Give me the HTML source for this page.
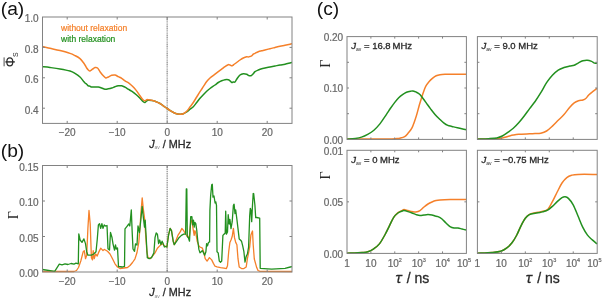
<!DOCTYPE html>
<html><head><meta charset="utf-8"><style>
html,body{margin:0;padding:0;background:#fff;}
svg{display:block;font-family:"Liberation Sans", sans-serif;}
</style></head><body>
<div style="will-change:transform;width:602px;height:300px;overflow:hidden;filter:blur(0.3px)">
<svg width="602" height="300" viewBox="0 0 602 300">
<rect width="602" height="300" fill="#fff"/>
<line x1="167.2" y1="17.0" x2="167.2" y2="123.4" stroke="#a2a2a2" stroke-width="1.5" stroke-dasharray="1.2,0.6"/>
<path d="M42.40,66.70 C43.67,66.83 47.07,67.13 50.00,67.50 C52.93,67.87 56.67,68.32 60.00,68.90 C63.33,69.48 67.50,70.27 70.00,71.00 C72.50,71.73 73.33,72.30 75.00,73.30 C76.67,74.30 78.62,75.72 80.00,77.00 C81.38,78.28 82.47,80.00 83.30,81.00 C84.13,82.00 84.43,82.47 85.00,83.00 C85.57,83.53 86.15,83.73 86.70,84.20 C87.25,84.67 87.75,85.47 88.30,85.80 C88.85,86.13 89.43,86.00 90.00,86.20 C90.57,86.40 90.87,86.87 91.70,87.00 C92.53,87.13 93.90,87.00 95.00,87.00 C96.10,87.00 97.18,86.83 98.30,87.00 C99.42,87.17 100.58,87.63 101.70,88.00 C102.82,88.37 103.90,89.07 105.00,89.20 C106.10,89.33 107.18,89.00 108.30,88.80 C109.42,88.60 110.58,88.35 111.70,88.00 C112.82,87.65 113.90,87.07 115.00,86.70 C116.10,86.33 117.18,85.95 118.30,85.80 C119.42,85.65 120.58,85.57 121.70,85.80 C122.82,86.03 123.90,86.63 125.00,87.20 C126.10,87.77 127.38,88.65 128.30,89.20 C129.22,89.75 129.67,89.98 130.50,90.50 C131.33,91.02 132.38,91.63 133.30,92.30 C134.22,92.97 134.88,93.50 136.00,94.50 C137.12,95.50 138.78,97.10 140.00,98.30 C141.22,99.50 142.47,101.00 143.30,101.70 C144.13,102.40 144.43,102.65 145.00,102.50 C145.57,102.35 146.15,101.17 146.70,100.80 C147.25,100.43 147.47,100.35 148.30,100.30 C149.13,100.25 150.58,100.33 151.70,100.50 C152.82,100.67 153.62,100.80 155.00,101.30 C156.38,101.80 158.33,102.55 160.00,103.50 C161.67,104.45 163.33,105.83 165.00,107.00 C166.67,108.17 168.33,109.47 170.00,110.50 C171.67,111.53 173.33,112.58 175.00,113.20 C176.67,113.82 178.62,114.12 180.00,114.20 C181.38,114.28 182.18,114.07 183.30,113.70 C184.42,113.33 185.58,112.75 186.70,112.00 C187.82,111.25 188.90,110.08 190.00,109.20 C191.10,108.32 192.18,107.82 193.30,106.70 C194.42,105.58 195.58,103.90 196.70,102.50 C197.82,101.10 198.90,99.60 200.00,98.30 C201.10,97.00 202.18,95.87 203.30,94.70 C204.42,93.53 205.58,92.33 206.70,91.30 C207.82,90.27 208.62,89.55 210.00,88.50 C211.38,87.45 213.62,86.00 215.00,85.00 C216.38,84.00 217.18,83.20 218.30,82.50 C219.42,81.80 220.58,81.27 221.70,80.80 C222.82,80.33 223.90,79.88 225.00,79.70 C226.10,79.52 227.47,79.52 228.30,79.70 C229.13,79.88 229.43,80.33 230.00,80.80 C230.57,81.27 231.15,82.30 231.70,82.50 C232.25,82.70 232.75,82.08 233.30,82.00 C233.85,81.92 234.43,82.47 235.00,82.00 C235.57,81.53 235.87,80.37 236.70,79.20 C237.53,78.03 238.90,75.92 240.00,75.00 C241.10,74.08 242.18,73.83 243.30,73.70 C244.42,73.57 245.87,73.93 246.70,74.20 C247.53,74.47 247.75,75.03 248.30,75.30 C248.85,75.57 249.43,75.80 250.00,75.80 C250.57,75.80 251.15,75.65 251.70,75.30 C252.25,74.95 252.75,74.30 253.30,73.70 C253.85,73.10 254.17,72.32 255.00,71.70 C255.83,71.08 257.18,70.50 258.30,70.00 C259.42,69.50 260.58,69.03 261.70,68.70 C262.82,68.37 263.62,68.28 265.00,68.00 C266.38,67.72 268.33,67.33 270.00,67.00 C271.67,66.67 273.33,66.33 275.00,66.00 C276.67,65.67 278.33,65.30 280.00,65.00 C281.67,64.70 283.33,64.53 285.00,64.20 C286.67,63.87 288.83,63.28 290.00,63.00 C291.17,62.72 291.67,62.58 292.00,62.50" fill="none" stroke="#22901f" stroke-width="1.5"/>
<path d="M42.40,46.60 C43.67,46.88 47.07,47.63 50.00,48.30 C52.93,48.97 56.67,49.75 60.00,50.60 C63.33,51.45 67.50,52.57 70.00,53.40 C72.50,54.23 73.33,54.73 75.00,55.60 C76.67,56.47 78.62,57.45 80.00,58.60 C81.38,59.75 82.47,61.43 83.30,62.50 C84.13,63.57 84.43,64.08 85.00,65.00 C85.57,65.92 86.15,67.17 86.70,68.00 C87.25,68.83 87.75,69.50 88.30,70.00 C88.85,70.50 89.30,71.13 90.00,71.00 C90.70,70.87 91.67,69.78 92.50,69.20 C93.33,68.62 94.17,67.70 95.00,67.50 C95.83,67.30 96.67,67.30 97.50,68.00 C98.33,68.70 99.03,70.40 100.00,71.70 C100.97,73.00 102.33,74.75 103.30,75.80 C104.27,76.85 104.97,77.80 105.80,78.00 C106.63,78.20 107.32,77.45 108.30,77.00 C109.28,76.55 110.58,75.63 111.70,75.30 C112.82,74.97 113.90,74.77 115.00,75.00 C116.10,75.23 117.18,76.15 118.30,76.70 C119.42,77.25 120.58,77.62 121.70,78.30 C122.82,78.98 123.75,79.97 125.00,80.80 C126.25,81.63 127.95,82.38 129.20,83.30 C130.45,84.22 131.40,85.20 132.50,86.30 C133.60,87.40 134.55,88.32 135.80,89.90 C137.05,91.48 139.02,94.40 140.00,95.80 C140.98,97.20 141.15,97.60 141.70,98.30 C142.25,99.00 142.75,99.58 143.30,100.00 C143.85,100.42 144.43,100.85 145.00,100.80 C145.57,100.75 146.15,99.88 146.70,99.70 C147.25,99.52 147.47,99.60 148.30,99.70 C149.13,99.80 150.58,100.03 151.70,100.30 C152.82,100.57 153.62,100.77 155.00,101.30 C156.38,101.83 158.33,102.55 160.00,103.50 C161.67,104.45 163.33,105.83 165.00,107.00 C166.67,108.17 168.33,109.47 170.00,110.50 C171.67,111.53 173.33,112.58 175.00,113.20 C176.67,113.82 178.62,114.12 180.00,114.20 C181.38,114.28 182.18,114.18 183.30,113.70 C184.42,113.22 185.58,112.42 186.70,111.30 C187.82,110.18 188.90,108.47 190.00,107.00 C191.10,105.53 192.18,104.17 193.30,102.50 C194.42,100.83 195.58,98.80 196.70,97.00 C197.82,95.20 198.90,93.42 200.00,91.70 C201.10,89.98 202.18,88.40 203.30,86.70 C204.42,85.00 205.58,82.95 206.70,81.50 C207.82,80.05 208.62,79.22 210.00,78.00 C211.38,76.78 213.62,75.25 215.00,74.20 C216.38,73.15 217.18,72.53 218.30,71.70 C219.42,70.87 220.58,70.03 221.70,69.20 C222.82,68.37 223.90,67.45 225.00,66.70 C226.10,65.95 227.47,64.98 228.30,64.70 C229.13,64.42 229.43,64.82 230.00,65.00 C230.57,65.18 231.15,65.80 231.70,65.80 C232.25,65.80 232.47,65.55 233.30,65.00 C234.13,64.45 235.58,63.33 236.70,62.50 C237.82,61.67 238.90,60.75 240.00,60.00 C241.10,59.25 242.18,58.53 243.30,58.00 C244.42,57.47 245.87,56.97 246.70,56.80 C247.53,56.63 247.75,57.05 248.30,57.00 C248.85,56.95 249.43,56.70 250.00,56.50 C250.57,56.30 251.15,56.18 251.70,55.80 C252.25,55.42 252.75,54.62 253.30,54.20 C253.85,53.78 254.17,53.72 255.00,53.30 C255.83,52.88 257.18,52.12 258.30,51.70 C259.42,51.28 260.58,51.08 261.70,50.80 C262.82,50.52 263.62,50.35 265.00,50.00 C266.38,49.65 268.33,49.12 270.00,48.70 C271.67,48.28 273.33,47.90 275.00,47.50 C276.67,47.10 278.33,46.67 280.00,46.30 C281.67,45.93 283.33,45.65 285.00,45.30 C286.67,44.95 288.83,44.47 290.00,44.20 C291.17,43.93 291.67,43.78 292.00,43.70" fill="none" stroke="#f5802a" stroke-width="1.5"/>
<rect x="42.5" y="17.0" width="249.5" height="106.4" fill="none" stroke="#828282" stroke-width="1"/>
<line x1="67.2" y1="123.4" x2="67.2" y2="120.9" stroke="#828282" stroke-width="1"/>
<line x1="67.2" y1="17.0" x2="67.2" y2="19.5" stroke="#828282" stroke-width="1"/>
<line x1="117.2" y1="123.4" x2="117.2" y2="120.9" stroke="#828282" stroke-width="1"/>
<line x1="117.2" y1="17.0" x2="117.2" y2="19.5" stroke="#828282" stroke-width="1"/>
<line x1="167.2" y1="123.4" x2="167.2" y2="120.9" stroke="#828282" stroke-width="1"/>
<line x1="167.2" y1="17.0" x2="167.2" y2="19.5" stroke="#828282" stroke-width="1"/>
<line x1="217.2" y1="123.4" x2="217.2" y2="120.9" stroke="#828282" stroke-width="1"/>
<line x1="217.2" y1="17.0" x2="217.2" y2="19.5" stroke="#828282" stroke-width="1"/>
<line x1="267.2" y1="123.4" x2="267.2" y2="120.9" stroke="#828282" stroke-width="1"/>
<line x1="267.2" y1="17.0" x2="267.2" y2="19.5" stroke="#828282" stroke-width="1"/>
<line x1="42.5" y1="47.4" x2="45.0" y2="47.4" stroke="#828282" stroke-width="1"/>
<line x1="292.0" y1="47.4" x2="289.5" y2="47.4" stroke="#828282" stroke-width="1"/>
<line x1="42.5" y1="77.8" x2="45.0" y2="77.8" stroke="#828282" stroke-width="1"/>
<line x1="292.0" y1="77.8" x2="289.5" y2="77.8" stroke="#828282" stroke-width="1"/>
<line x1="42.5" y1="108.2" x2="45.0" y2="108.2" stroke="#828282" stroke-width="1"/>
<line x1="292.0" y1="108.2" x2="289.5" y2="108.2" stroke="#828282" stroke-width="1"/>
<text x="67.2" y="136.4" font-size="10" fill="#686868" text-anchor="middle" stroke="#686868" stroke-width="0.22" >&#8722;20</text>
<text x="117.2" y="136.4" font-size="10" fill="#686868" text-anchor="middle" stroke="#686868" stroke-width="0.22" >&#8722;10</text>
<text x="167.2" y="136.4" font-size="10" fill="#686868" text-anchor="middle" stroke="#686868" stroke-width="0.22" >0</text>
<text x="217.2" y="136.4" font-size="10" fill="#686868" text-anchor="middle" stroke="#686868" stroke-width="0.22" >10</text>
<text x="267.2" y="136.4" font-size="10" fill="#686868" text-anchor="middle" stroke="#686868" stroke-width="0.22" >20</text>
<text x="38.6" y="22.3" font-size="10" fill="#686868" text-anchor="end" stroke="#686868" stroke-width="0.22" >1.0</text>
<text x="38.6" y="52.699999999999996" font-size="10" fill="#686868" text-anchor="end" stroke="#686868" stroke-width="0.22" >0.8</text>
<text x="38.6" y="83.1" font-size="10" fill="#686868" text-anchor="end" stroke="#686868" stroke-width="0.22" >0.6</text>
<text x="38.6" y="113.5" font-size="10" fill="#686868" text-anchor="end" stroke="#686868" stroke-width="0.22" >0.4</text>
<line x1="167.2" y1="165.5" x2="167.2" y2="272.0" stroke="#a2a2a2" stroke-width="1.5" stroke-dasharray="1.2,0.6"/>
<path d="M42.40,271.50 L74.00,271.50 L76.50,270.50 L78.50,267.50 L80.80,261.00 L83.20,251.70 L84.30,250.60 L85.50,258.70 L86.70,255.20 L87.90,228.40 L89.00,210.50 L90.20,223.70 L91.40,257.60 L92.50,259.90 L93.20,250.60 L94.20,258.70 L95.60,254.00 L97.20,256.00 L98.40,252.90 L99.50,250.60 L100.70,248.20 L101.90,249.40 L103.00,250.60 L104.20,249.40 L105.40,250.00 L107.50,251.30 L110.00,254.00 L112.50,258.80 L115.00,263.80 L117.50,267.00 L120.00,268.50 L127.50,267.50 L130.00,265.50 L132.50,262.50 L135.00,258.80 L137.00,252.50 L138.80,242.50 L140.00,227.50 L141.00,212.00 L142.20,197.90 L143.40,209.70 L144.50,217.90 L145.70,235.40 L146.90,251.70 L148.00,257.60 L150.40,258.70 L152.70,255.90 L155.00,252.90 L157.40,248.20 L159.70,245.90 L162.10,243.60 L164.40,245.90 L166.90,247.00 L168.50,235.40 L170.10,228.40 L171.50,230.70 L173.20,241.20 L174.30,244.70 L177.90,235.40 L180.20,231.90 L181.80,228.40 L183.70,230.70 L185.60,234.20 L188.40,237.70 L189.50,235.40 L190.70,222.50 L191.90,220.20 L193.00,228.40 L194.20,235.40 L194.90,230.70 L195.80,233.00 L197.20,241.20 L198.90,245.90 L200.00,247.00 L202.40,248.20 L203.60,251.70 L205.20,258.70 L207.10,261.10 L209.40,257.60 L211.70,259.90 L213.40,263.40 L215.00,266.20 L217.00,266.90 L220.50,267.60 L224.00,268.10 L226.40,268.60 L227.50,265.70 L228.70,251.70 L229.90,242.40 L231.00,240.00 L232.20,236.50 L233.40,228.40 L234.50,237.70 L235.70,242.40 L236.90,244.70 L238.00,258.70 L239.20,266.90 L241.50,268.60 L243.90,268.60 L246.20,266.90 L247.40,258.70 L248.60,252.90 L249.70,247.00 L250.90,235.00 L252.50,231.00 L253.20,244.70 L254.30,259.00 L256.70,267.60 L258.00,270.50 L260.00,271.30 L292.00,271.50" fill="none" stroke="#f5802a" stroke-width="1.3" stroke-linejoin="round"/>
<path d="M42.40,269.50 L54.70,271.40 L59.30,264.20 L62.00,264.80 L65.00,263.80 L68.00,264.50 L71.00,263.50 L74.00,264.20 L76.00,263.20 L78.30,263.80 L78.80,234.00 L80.10,240.00 L82.00,242.40 L83.90,238.90 L85.50,243.60 L86.70,251.70 L87.90,255.20 L91.40,255.20 L93.70,254.00 L96.00,251.70 L97.20,240.00 L98.40,224.90 L99.50,223.70 L100.70,228.40 L101.90,223.70 L103.00,228.40 L104.20,224.90 L105.40,226.00 L107.00,225.50 L108.00,248.80 L109.50,250.00 L110.50,232.50 L112.00,237.50 L113.00,243.80 L114.50,250.00 L115.50,245.00 L116.30,249.00 L117.50,248.00 L118.50,266.50 L122.50,267.00 L124.50,266.30 L125.00,228.80 L127.00,226.30 L128.80,224.00 L129.80,226.00 L131.30,210.00 L132.20,232.50 L133.00,249.00 L134.50,251.30 L135.50,243.80 L137.00,245.00 L138.00,226.00 L139.50,232.50 L140.80,220.00 L142.20,206.50 L143.40,217.90 L144.50,227.20 L145.20,220.20 L146.20,237.70 L147.30,257.60 L149.20,258.70 L151.50,257.60 L153.90,252.90 L155.00,237.70 L156.20,233.00 L157.40,234.20 L158.60,243.60 L159.70,240.00 L160.90,244.70 L162.10,241.20 L163.20,243.60 L164.40,247.00 L165.60,246.50 L166.90,247.00 L168.50,235.40 L170.10,228.40 L171.50,230.70 L173.20,241.20 L174.30,244.70 L176.70,241.20 L179.00,237.70 L181.40,235.40 L183.70,234.20 L185.60,234.20 L186.30,189.00 L186.80,189.00 L187.30,236.50 L188.40,237.70 L189.50,241.20 L190.70,216.70 L191.90,216.70 L192.60,224.90 L193.50,220.20 L194.20,227.20 L194.90,222.50 L195.80,223.70 L196.80,230.70 L197.70,240.00 L198.90,249.40 L200.00,252.90 L201.20,251.70 L202.40,250.60 L203.60,252.90 L204.70,255.20 L205.90,251.70 L206.60,243.60 L207.50,245.90 L208.50,242.40 L209.60,242.00 L209.90,210.40 L210.60,196.40 L211.70,184.70 L212.30,184.30 L213.00,197.20 L214.00,196.00 L215.10,203.00 L215.80,201.90 L216.50,205.40 L217.00,251.70 L218.20,252.90 L219.30,261.10 L220.50,262.20 L221.70,261.10 L222.90,235.40 L224.00,234.20 L225.20,233.00 L225.70,211.20 L226.40,234.20 L227.50,231.90 L228.20,214.70 L229.20,224.00 L229.90,219.40 L231.00,228.70 L232.20,221.70 L233.40,205.40 L234.10,204.20 L235.00,213.60 L235.70,210.00 L236.90,219.40 L238.00,228.70 L239.20,238.90 L240.40,240.00 L241.50,241.20 L242.70,245.90 L243.90,251.70 L245.00,262.20 L246.20,256.40 L247.40,254.00 L248.60,247.00 L249.70,215.90 L250.30,208.30 L250.90,210.00 L251.70,221.70 L252.50,205.00 L253.20,193.50 L253.70,193.70 L254.90,205.00 L255.70,217.70 L256.70,217.50 L259.70,218.20 L260.20,268.30 L271.70,269.10 L285.00,268.30 L290.30,267.00 L292.00,266.70" fill="none" stroke="#22901f" stroke-width="1.3" stroke-linejoin="round"/>
<rect x="42.5" y="165.5" width="249.5" height="106.5" fill="none" stroke="#828282" stroke-width="1"/>
<line x1="67.2" y1="272.0" x2="67.2" y2="269.5" stroke="#828282" stroke-width="1"/>
<line x1="67.2" y1="165.5" x2="67.2" y2="168.0" stroke="#828282" stroke-width="1"/>
<line x1="117.2" y1="272.0" x2="117.2" y2="269.5" stroke="#828282" stroke-width="1"/>
<line x1="117.2" y1="165.5" x2="117.2" y2="168.0" stroke="#828282" stroke-width="1"/>
<line x1="167.2" y1="272.0" x2="167.2" y2="269.5" stroke="#828282" stroke-width="1"/>
<line x1="167.2" y1="165.5" x2="167.2" y2="168.0" stroke="#828282" stroke-width="1"/>
<line x1="217.2" y1="272.0" x2="217.2" y2="269.5" stroke="#828282" stroke-width="1"/>
<line x1="217.2" y1="165.5" x2="217.2" y2="168.0" stroke="#828282" stroke-width="1"/>
<line x1="267.2" y1="272.0" x2="267.2" y2="269.5" stroke="#828282" stroke-width="1"/>
<line x1="267.2" y1="165.5" x2="267.2" y2="168.0" stroke="#828282" stroke-width="1"/>
<line x1="42.5" y1="201.0" x2="45.0" y2="201.0" stroke="#828282" stroke-width="1"/>
<line x1="292.0" y1="201.0" x2="289.5" y2="201.0" stroke="#828282" stroke-width="1"/>
<line x1="42.5" y1="236.5" x2="45.0" y2="236.5" stroke="#828282" stroke-width="1"/>
<line x1="292.0" y1="236.5" x2="289.5" y2="236.5" stroke="#828282" stroke-width="1"/>
<text x="67.2" y="284.8" font-size="10" fill="#686868" text-anchor="middle" stroke="#686868" stroke-width="0.22" >&#8722;20</text>
<text x="117.2" y="284.8" font-size="10" fill="#686868" text-anchor="middle" stroke="#686868" stroke-width="0.22" >&#8722;10</text>
<text x="167.2" y="284.8" font-size="10" fill="#686868" text-anchor="middle" stroke="#686868" stroke-width="0.22" >0</text>
<text x="217.2" y="284.8" font-size="10" fill="#686868" text-anchor="middle" stroke="#686868" stroke-width="0.22" >10</text>
<text x="267.2" y="284.8" font-size="10" fill="#686868" text-anchor="middle" stroke="#686868" stroke-width="0.22" >20</text>
<text x="38.6" y="170.8" font-size="10" fill="#686868" text-anchor="end" stroke="#686868" stroke-width="0.22" >0.15</text>
<text x="38.6" y="206.3" font-size="10" fill="#686868" text-anchor="end" stroke="#686868" stroke-width="0.22" >0.10</text>
<text x="38.6" y="241.8" font-size="10" fill="#686868" text-anchor="end" stroke="#686868" stroke-width="0.22" >0.05</text>
<text x="38.6" y="277.3" font-size="10" fill="#686868" text-anchor="end" stroke="#686868" stroke-width="0.22" >0.00</text>
<path d="M347.00,138.90 C353.50,138.90 377.72,138.95 386.00,138.90 C394.28,138.85 394.37,138.72 396.70,138.60 C399.03,138.48 398.67,138.53 400.00,138.20 C401.33,137.87 403.33,137.45 404.70,136.60 C406.07,135.75 407.03,134.47 408.20,133.10 C409.37,131.73 410.65,130.35 411.70,128.40 C412.75,126.45 413.65,123.73 414.50,121.40 C415.35,119.07 416.02,117.05 416.80,114.40 C417.58,111.75 418.42,108.23 419.20,105.50 C419.98,102.77 420.80,100.22 421.50,98.00 C422.20,95.78 422.70,94.13 423.40,92.20 C424.10,90.27 424.73,88.18 425.70,86.40 C426.67,84.62 428.03,82.87 429.20,81.50 C430.37,80.13 431.53,79.15 432.70,78.20 C433.87,77.25 434.98,76.38 436.20,75.80 C437.42,75.22 438.53,74.95 440.00,74.70 C441.47,74.45 443.00,74.38 445.00,74.30 C447.00,74.22 448.50,74.22 452.00,74.20 C455.50,74.18 463.67,74.20 466.00,74.20" fill="none" stroke="#f5802a" stroke-width="1.5"/>
<path d="M347.00,139.20 C348.38,139.07 352.88,138.75 355.30,138.40 C357.72,138.05 359.43,137.78 361.50,137.10 C363.57,136.42 365.63,135.45 367.70,134.30 C369.77,133.15 371.83,131.98 373.90,130.20 C375.97,128.42 378.03,126.20 380.10,123.60 C382.17,121.00 384.57,117.15 386.30,114.60 C388.03,112.05 389.12,110.30 390.50,108.30 C391.88,106.30 393.23,104.35 394.60,102.60 C395.97,100.85 397.32,99.17 398.70,97.80 C400.08,96.43 401.60,95.32 402.90,94.40 C404.20,93.48 405.23,92.83 406.50,92.30 C407.77,91.77 409.42,91.42 410.50,91.20 C411.58,90.98 412.02,90.83 413.00,91.00 C413.98,91.17 415.25,91.62 416.40,92.20 C417.55,92.78 418.73,93.37 419.90,94.50 C421.07,95.63 422.23,97.43 423.40,99.00 C424.57,100.57 425.73,102.30 426.90,103.90 C428.07,105.50 429.05,106.85 430.40,108.60 C431.75,110.35 433.40,112.58 435.00,114.40 C436.60,116.22 438.55,118.10 440.00,119.50 C441.45,120.90 442.40,121.82 443.70,122.80 C445.00,123.78 446.43,124.80 447.80,125.40 C449.17,126.00 450.30,126.00 451.90,126.40 C453.50,126.80 455.05,127.25 457.40,127.80 C459.75,128.35 464.57,129.38 466.00,129.70" fill="none" stroke="#22901f" stroke-width="1.5"/>
<rect x="347.0" y="36.6" width="119.39999999999998" height="102.80000000000001" fill="none" stroke="#828282" stroke-width="1"/>
<line x1="370.88" y1="139.4" x2="370.88" y2="137.4" stroke="#828282" stroke-width="1"/>
<line x1="370.88" y1="36.6" x2="370.88" y2="38.6" stroke="#828282" stroke-width="1"/>
<line x1="394.76" y1="139.4" x2="394.76" y2="137.4" stroke="#828282" stroke-width="1"/>
<line x1="394.76" y1="36.6" x2="394.76" y2="38.6" stroke="#828282" stroke-width="1"/>
<line x1="418.64" y1="139.4" x2="418.64" y2="137.4" stroke="#828282" stroke-width="1"/>
<line x1="418.64" y1="36.6" x2="418.64" y2="38.6" stroke="#828282" stroke-width="1"/>
<line x1="442.52" y1="139.4" x2="442.52" y2="137.4" stroke="#828282" stroke-width="1"/>
<line x1="442.52" y1="36.6" x2="442.52" y2="38.6" stroke="#828282" stroke-width="1"/>
<line x1="347.0" y1="113.7" x2="349.0" y2="113.7" stroke="#828282" stroke-width="1"/>
<line x1="466.4" y1="113.7" x2="464.4" y2="113.7" stroke="#828282" stroke-width="1"/>
<line x1="347.0" y1="88.0" x2="349.0" y2="88.0" stroke="#828282" stroke-width="1"/>
<line x1="466.4" y1="88.0" x2="464.4" y2="88.0" stroke="#828282" stroke-width="1"/>
<line x1="347.0" y1="62.3" x2="349.0" y2="62.3" stroke="#828282" stroke-width="1"/>
<line x1="466.4" y1="62.3" x2="464.4" y2="62.3" stroke="#828282" stroke-width="1"/>
<path d="M477.40,139.00 C480.65,138.95 492.75,138.88 496.90,138.70 C501.05,138.52 500.48,138.27 502.30,137.90 C504.12,137.53 505.97,136.97 507.80,136.50 C509.63,136.03 511.48,135.47 513.30,135.10 C515.12,134.73 515.98,134.52 518.70,134.30 C521.42,134.08 526.88,133.92 529.60,133.80 C532.32,133.68 533.13,133.70 535.00,133.60 C536.87,133.50 538.87,133.63 540.80,133.20 C542.73,132.77 544.67,132.18 546.60,131.00 C548.53,129.82 550.47,127.88 552.40,126.10 C554.33,124.32 556.27,122.23 558.20,120.30 C560.13,118.37 562.07,116.68 564.00,114.50 C565.93,112.32 568.10,109.13 569.80,107.20 C571.50,105.27 572.75,103.97 574.20,102.90 C575.65,101.83 577.05,101.28 578.50,100.80 C579.95,100.32 581.68,100.38 582.90,100.00 C584.12,99.62 584.83,99.33 585.80,98.50 C586.77,97.67 587.50,96.20 588.70,95.00 C589.90,93.80 591.62,92.40 593.00,91.30 C594.38,90.20 596.33,88.88 597.00,88.40" fill="none" stroke="#f5802a" stroke-width="1.5"/>
<path d="M477.40,139.20 C479.28,139.12 485.45,138.92 488.70,138.70 C491.95,138.48 494.63,138.35 496.90,137.90 C499.17,137.45 500.48,136.92 502.30,136.00 C504.12,135.08 505.97,133.68 507.80,132.40 C509.63,131.12 511.48,129.90 513.30,128.30 C515.12,126.70 516.88,124.85 518.70,122.80 C520.52,120.75 522.38,118.37 524.20,116.00 C526.02,113.63 527.78,111.02 529.60,108.60 C531.42,106.18 533.23,104.15 535.10,101.50 C536.97,98.85 538.88,95.85 540.80,92.70 C542.72,89.55 544.67,85.50 546.60,82.60 C548.53,79.70 550.47,77.38 552.40,75.30 C554.33,73.22 556.27,71.40 558.20,70.10 C560.13,68.80 562.07,68.18 564.00,67.50 C565.93,66.82 568.10,66.38 569.80,66.00 C571.50,65.62 572.75,65.73 574.20,65.20 C575.65,64.67 577.05,63.53 578.50,62.80 C579.95,62.07 581.45,61.23 582.90,60.80 C584.35,60.37 585.75,60.10 587.20,60.20 C588.65,60.30 590.38,60.92 591.60,61.40 C592.82,61.88 593.60,62.82 594.50,63.10 C595.40,63.38 596.58,63.10 597.00,63.10" fill="none" stroke="#22901f" stroke-width="1.5"/>
<rect x="477.4" y="36.6" width="119.80000000000007" height="102.80000000000001" fill="none" stroke="#828282" stroke-width="1"/>
<line x1="501.36" y1="139.4" x2="501.36" y2="137.4" stroke="#828282" stroke-width="1"/>
<line x1="501.36" y1="36.6" x2="501.36" y2="38.6" stroke="#828282" stroke-width="1"/>
<line x1="525.32" y1="139.4" x2="525.32" y2="137.4" stroke="#828282" stroke-width="1"/>
<line x1="525.32" y1="36.6" x2="525.32" y2="38.6" stroke="#828282" stroke-width="1"/>
<line x1="549.28" y1="139.4" x2="549.28" y2="137.4" stroke="#828282" stroke-width="1"/>
<line x1="549.28" y1="36.6" x2="549.28" y2="38.6" stroke="#828282" stroke-width="1"/>
<line x1="573.24" y1="139.4" x2="573.24" y2="137.4" stroke="#828282" stroke-width="1"/>
<line x1="573.24" y1="36.6" x2="573.24" y2="38.6" stroke="#828282" stroke-width="1"/>
<line x1="477.4" y1="113.7" x2="479.4" y2="113.7" stroke="#828282" stroke-width="1"/>
<line x1="597.2" y1="113.7" x2="595.2" y2="113.7" stroke="#828282" stroke-width="1"/>
<line x1="477.4" y1="88.0" x2="479.4" y2="88.0" stroke="#828282" stroke-width="1"/>
<line x1="597.2" y1="88.0" x2="595.2" y2="88.0" stroke="#828282" stroke-width="1"/>
<line x1="477.4" y1="62.3" x2="479.4" y2="62.3" stroke="#828282" stroke-width="1"/>
<line x1="597.2" y1="62.3" x2="595.2" y2="62.3" stroke="#828282" stroke-width="1"/>
<path d="M347.00,253.20 C349.53,253.08 358.72,252.75 362.20,252.50 C365.68,252.25 365.98,252.32 367.90,251.70 C369.82,251.08 371.78,250.10 373.70,248.80 C375.62,247.50 377.50,246.28 379.40,243.90 C381.30,241.52 383.43,237.50 385.10,234.50 C386.77,231.50 387.97,228.77 389.40,225.90 C390.83,223.03 392.27,219.52 393.70,217.30 C395.13,215.08 396.57,213.75 398.00,212.60 C399.43,211.45 401.30,210.90 402.30,210.40 C403.30,209.90 403.05,209.57 404.00,209.60 C404.95,209.63 406.67,210.27 408.00,210.60 C409.33,210.93 410.67,211.37 412.00,211.60 C413.33,211.83 414.67,212.17 416.00,212.00 C417.33,211.83 418.67,211.43 420.00,210.60 C421.33,209.77 422.67,208.10 424.00,207.00 C425.33,205.90 426.67,204.83 428.00,204.00 C429.33,203.17 430.67,202.57 432.00,202.00 C433.33,201.43 434.67,200.93 436.00,200.60 C437.33,200.27 437.67,200.17 440.00,200.00 C442.33,199.83 445.67,199.67 450.00,199.60 C454.33,199.53 463.33,199.60 466.00,199.60" fill="none" stroke="#f5802a" stroke-width="1.5"/>
<path d="M347.00,253.20 C349.53,253.08 358.72,252.75 362.20,252.50 C365.68,252.25 365.98,252.32 367.90,251.70 C369.82,251.08 371.78,250.10 373.70,248.80 C375.62,247.50 377.50,246.28 379.40,243.90 C381.30,241.52 383.43,237.50 385.10,234.50 C386.77,231.50 387.97,228.77 389.40,225.90 C390.83,223.03 392.27,219.45 393.70,217.30 C395.13,215.15 396.57,214.05 398.00,213.00 C399.43,211.95 401.30,211.40 402.30,211.00 C403.30,210.60 403.05,210.50 404.00,210.60 C404.95,210.70 406.67,211.20 408.00,211.60 C409.33,212.00 410.67,212.50 412.00,213.00 C413.33,213.50 414.67,214.17 416.00,214.60 C417.33,215.03 418.67,215.53 420.00,215.60 C421.33,215.67 422.67,215.17 424.00,215.00 C425.33,214.83 426.67,214.60 428.00,214.60 C429.33,214.60 430.83,214.77 432.00,215.00 C433.17,215.23 434.00,215.73 435.00,216.00 C436.00,216.27 436.83,216.10 438.00,216.60 C439.17,217.10 440.67,217.93 442.00,219.00 C443.33,220.07 444.67,221.73 446.00,223.00 C447.33,224.27 448.67,225.77 450.00,226.60 C451.33,227.43 452.67,227.77 454.00,228.00 C455.33,228.23 456.67,227.83 458.00,228.00 C459.33,228.17 460.67,228.67 462.00,229.00 C463.33,229.33 465.33,229.83 466.00,230.00" fill="none" stroke="#22901f" stroke-width="1.5"/>
<rect x="347.0" y="150.3" width="119.39999999999998" height="103.1" fill="none" stroke="#828282" stroke-width="1"/>
<line x1="370.88" y1="253.4" x2="370.88" y2="251.4" stroke="#828282" stroke-width="1"/>
<line x1="370.88" y1="150.3" x2="370.88" y2="152.3" stroke="#828282" stroke-width="1"/>
<line x1="394.76" y1="253.4" x2="394.76" y2="251.4" stroke="#828282" stroke-width="1"/>
<line x1="394.76" y1="150.3" x2="394.76" y2="152.3" stroke="#828282" stroke-width="1"/>
<line x1="418.64" y1="253.4" x2="418.64" y2="251.4" stroke="#828282" stroke-width="1"/>
<line x1="418.64" y1="150.3" x2="418.64" y2="152.3" stroke="#828282" stroke-width="1"/>
<line x1="442.52" y1="253.4" x2="442.52" y2="251.4" stroke="#828282" stroke-width="1"/>
<line x1="442.52" y1="150.3" x2="442.52" y2="152.3" stroke="#828282" stroke-width="1"/>
<line x1="347.0" y1="201.85000000000002" x2="349.0" y2="201.85000000000002" stroke="#828282" stroke-width="1"/>
<line x1="466.4" y1="201.85000000000002" x2="464.4" y2="201.85000000000002" stroke="#828282" stroke-width="1"/>
<path d="M477.40,253.20 C479.87,253.08 488.30,252.82 492.20,252.50 C496.10,252.18 498.42,252.02 500.80,251.30 C503.18,250.58 504.60,249.67 506.50,248.20 C508.40,246.73 510.48,244.70 512.20,242.50 C513.92,240.30 515.33,237.78 516.80,235.00 C518.27,232.22 519.58,228.58 521.00,225.80 C522.42,223.02 523.90,220.20 525.30,218.30 C526.70,216.40 527.75,215.32 529.40,214.40 C531.05,213.48 533.43,213.20 535.20,212.80 C536.97,212.40 538.73,212.27 540.00,212.00 C541.27,211.73 541.53,211.60 542.80,211.20 C544.07,210.80 546.00,211.20 547.60,209.60 C549.20,208.00 550.80,204.53 552.40,201.60 C554.00,198.67 555.60,195.10 557.20,192.00 C558.80,188.90 560.40,185.40 562.00,183.00 C563.60,180.60 565.20,178.88 566.80,177.60 C568.40,176.32 569.73,175.83 571.60,175.30 C573.47,174.77 573.77,174.55 578.00,174.40 C582.23,174.25 593.83,174.40 597.00,174.40" fill="none" stroke="#f5802a" stroke-width="1.5"/>
<path d="M477.40,253.20 C479.87,253.08 488.30,252.82 492.20,252.50 C496.10,252.18 498.42,252.02 500.80,251.30 C503.18,250.58 504.60,249.67 506.50,248.20 C508.40,246.73 510.48,244.70 512.20,242.50 C513.92,240.30 515.33,237.78 516.80,235.00 C518.27,232.22 519.58,228.58 521.00,225.80 C522.42,223.02 523.90,220.17 525.30,218.30 C526.70,216.43 527.75,215.45 529.40,214.60 C531.05,213.75 533.43,213.55 535.20,213.20 C536.97,212.85 538.73,212.73 540.00,212.50 C541.27,212.27 541.53,212.18 542.80,211.80 C544.07,211.42 546.00,211.10 547.60,210.20 C549.20,209.30 550.80,207.83 552.40,206.40 C554.00,204.97 555.60,203.05 557.20,201.60 C558.80,200.15 560.67,198.50 562.00,197.70 C563.33,196.90 564.13,196.68 565.20,196.80 C566.27,196.92 567.07,197.07 568.40,198.40 C569.73,199.73 571.60,201.87 573.20,204.80 C574.80,207.73 576.42,212.28 578.00,216.00 C579.58,219.72 581.12,223.92 582.70,227.10 C584.28,230.28 585.90,232.97 587.50,235.10 C589.10,237.23 590.72,238.45 592.30,239.90 C593.88,241.35 596.22,243.15 597.00,243.80" fill="none" stroke="#22901f" stroke-width="1.5"/>
<rect x="477.4" y="150.3" width="119.80000000000007" height="103.1" fill="none" stroke="#828282" stroke-width="1"/>
<line x1="501.36" y1="253.4" x2="501.36" y2="251.4" stroke="#828282" stroke-width="1"/>
<line x1="501.36" y1="150.3" x2="501.36" y2="152.3" stroke="#828282" stroke-width="1"/>
<line x1="525.32" y1="253.4" x2="525.32" y2="251.4" stroke="#828282" stroke-width="1"/>
<line x1="525.32" y1="150.3" x2="525.32" y2="152.3" stroke="#828282" stroke-width="1"/>
<line x1="549.28" y1="253.4" x2="549.28" y2="251.4" stroke="#828282" stroke-width="1"/>
<line x1="549.28" y1="150.3" x2="549.28" y2="152.3" stroke="#828282" stroke-width="1"/>
<line x1="573.24" y1="253.4" x2="573.24" y2="251.4" stroke="#828282" stroke-width="1"/>
<line x1="573.24" y1="150.3" x2="573.24" y2="152.3" stroke="#828282" stroke-width="1"/>
<line x1="477.4" y1="201.85000000000002" x2="479.4" y2="201.85000000000002" stroke="#828282" stroke-width="1"/>
<line x1="597.2" y1="201.85000000000002" x2="595.2" y2="201.85000000000002" stroke="#828282" stroke-width="1"/>
<text x="351.3" y="49.3" font-size="9.5" fill="#2a2a2a" stroke="#2a2a2a" stroke-width="0.3"><tspan font-style="italic">J</tspan><tspan font-size="5" dy="1.5" stroke-width="0">av</tspan><tspan dy="-1.5"> = 16.8</tspan><tspan dx="-0.8"> MHz</tspan></text>
<text x="481.6" y="49.3" font-size="9.5" fill="#2a2a2a" stroke="#2a2a2a" stroke-width="0.3"><tspan font-style="italic">J</tspan><tspan font-size="5" dy="1.5" stroke-width="0">av</tspan><tspan dy="-1.5"> = 9.0 MHz</tspan></text>
<text x="351.3" y="163.2" font-size="9.5" fill="#2a2a2a" stroke="#2a2a2a" stroke-width="0.3"><tspan font-style="italic">J</tspan><tspan font-size="5" dy="1.5" stroke-width="0">av</tspan><tspan dy="-1.5"> = 0 MHz</tspan></text>
<text x="481.6" y="163.2" font-size="9.5" fill="#2a2a2a" stroke="#2a2a2a" stroke-width="0.3"><tspan font-style="italic">J</tspan><tspan font-size="5" dy="1.5" stroke-width="0">av</tspan><tspan dy="-1.5"> = &#8722;0.75 MHz</tspan></text>
<text x="343.2" y="40.9" font-size="10" fill="#686868" text-anchor="end" stroke="#686868" stroke-width="0.22" >0.20</text>
<text x="343.2" y="92.3" font-size="10" fill="#686868" text-anchor="end" stroke="#686868" stroke-width="0.22" >0.10</text>
<text x="343.2" y="143.70000000000002" font-size="10" fill="#686868" text-anchor="end" stroke="#686868" stroke-width="0.22" >0.00</text>
<text x="343.2" y="154.60000000000002" font-size="10" fill="#686868" text-anchor="end" stroke="#686868" stroke-width="0.22" >0.01</text>
<text x="343.2" y="206.20000000000002" font-size="10" fill="#686868" text-anchor="end" stroke="#686868" stroke-width="0.22" >0.05</text>
<text x="343.2" y="257.7" font-size="10" fill="#686868" text-anchor="end" stroke="#686868" stroke-width="0.22" >0.00</text>
<text x="347.0" y="266.8" font-size="10" fill="#686868" text-anchor="middle" stroke="#686868" stroke-width="0.22" >1</text>
<text x="370.92" y="266.8" font-size="10" fill="#686868" text-anchor="middle" stroke="#686868" stroke-width="0.22" >10</text>
<text x="394.84" y="266.8" font-size="10" fill="#686868" text-anchor="middle" stroke="#686868" stroke-width="0.22" >10<tspan font-size="5.5" dy="-4.6">2</tspan></text>
<text x="418.76" y="266.8" font-size="10" fill="#686868" text-anchor="middle" stroke="#686868" stroke-width="0.22" >10<tspan font-size="5.5" dy="-4.6">3</tspan></text>
<text x="442.68" y="266.8" font-size="10" fill="#686868" text-anchor="middle" stroke="#686868" stroke-width="0.22" >10<tspan font-size="5.5" dy="-4.6">4</tspan></text>
<text x="464.0" y="266.8" font-size="10" fill="#686868" text-anchor="middle" stroke="#686868" stroke-width="0.22" >10<tspan font-size="5.5" dy="-4.6">5</tspan></text>
<text x="411.9" y="283" font-size="14" fill="#2a2a2a" stroke="#2a2a2a" stroke-width="0.3" text-anchor="middle"><tspan font-family="Liberation Mono" font-style="italic">&#964;</tspan> / ns</text>
<text x="477.4" y="266.8" font-size="10" fill="#686868" text-anchor="middle" stroke="#686868" stroke-width="0.22" >1</text>
<text x="501.32" y="266.8" font-size="10" fill="#686868" text-anchor="middle" stroke="#686868" stroke-width="0.22" >10</text>
<text x="525.24" y="266.8" font-size="10" fill="#686868" text-anchor="middle" stroke="#686868" stroke-width="0.22" >10<tspan font-size="5.5" dy="-4.6">2</tspan></text>
<text x="549.16" y="266.8" font-size="10" fill="#686868" text-anchor="middle" stroke="#686868" stroke-width="0.22" >10<tspan font-size="5.5" dy="-4.6">3</tspan></text>
<text x="573.0799999999999" y="266.8" font-size="10" fill="#686868" text-anchor="middle" stroke="#686868" stroke-width="0.22" >10<tspan font-size="5.5" dy="-4.6">4</tspan></text>
<text x="594.4" y="266.8" font-size="10" fill="#686868" text-anchor="middle" stroke="#686868" stroke-width="0.22" >10<tspan font-size="5.5" dy="-4.6">5</tspan></text>
<text x="542.3" y="283" font-size="14" fill="#2a2a2a" stroke="#2a2a2a" stroke-width="0.3" text-anchor="middle"><tspan font-family="Liberation Mono" font-style="italic">&#964;</tspan> / ns</text>
<text x="149.2" y="147.6" font-size="10.8" fill="#2a2a2a" stroke="#2a2a2a" stroke-width="0.3"><tspan font-style="italic">J</tspan><tspan font-size="5" dy="1.5" fill="#888" stroke-width="0">av</tspan><tspan dy="-1.5"> / MHz</tspan></text>
<text x="149.2" y="296.2" font-size="10.8" fill="#2a2a2a" stroke="#2a2a2a" stroke-width="0.3"><tspan font-style="italic">J</tspan><tspan font-size="5" dy="1.5" fill="#888" stroke-width="0">av</tspan><tspan dy="-1.5"> / MHz</tspan></text>
<text x="0" y="0" font-size="14" fill="#2a2a2a" font-family="Liberation Serif" text-anchor="middle" transform="translate(17.6,215.2) rotate(-90)">&#915;</text>
<text x="0" y="0" font-size="14" fill="#2a2a2a" font-family="Liberation Serif" text-anchor="middle" transform="translate(329.6,63.6) rotate(-90)">&#915;</text>
<text x="0" y="0" font-size="14" fill="#2a2a2a" font-family="Liberation Serif" text-anchor="middle" transform="translate(329.6,175.4) rotate(-90)">&#915;</text>
<ellipse cx="9.8" cy="61.9" rx="2.95" ry="3.95" fill="none" stroke="#2a2a2a" stroke-width="1.25"/>
<line x1="5.4" y1="61.9" x2="14.8" y2="61.9" stroke="#2a2a2a" stroke-width="1.4"/>
<text x="0" y="0" font-size="7" fill="#2a2a2a" transform="translate(17.9,54.6) rotate(-90)" text-anchor="middle">S</text>
<line x1="4.1" y1="57.4" x2="4.1" y2="66.3" stroke="#3a3a3a" stroke-width="0.9"/>
<text x="61" y="30.8" font-size="8.5" fill="#f5802a" stroke="#f5802a" stroke-width="0.2">without relaxation</text>
<text x="61" y="41.8" font-size="8.5" fill="#22901f" stroke="#22901f" stroke-width="0.2">with relaxation</text>
<text x="0.8" y="15.4" font-size="19.2" fill="#111" text-anchor="start" >(a)</text>
<text x="0.8" y="156.6" font-size="19.2" fill="#111" text-anchor="start" >(b)</text>
<text x="316.8" y="15.4" font-size="19.2" fill="#111" text-anchor="start" >(c)</text>
</svg>
</div>
</body></html>
